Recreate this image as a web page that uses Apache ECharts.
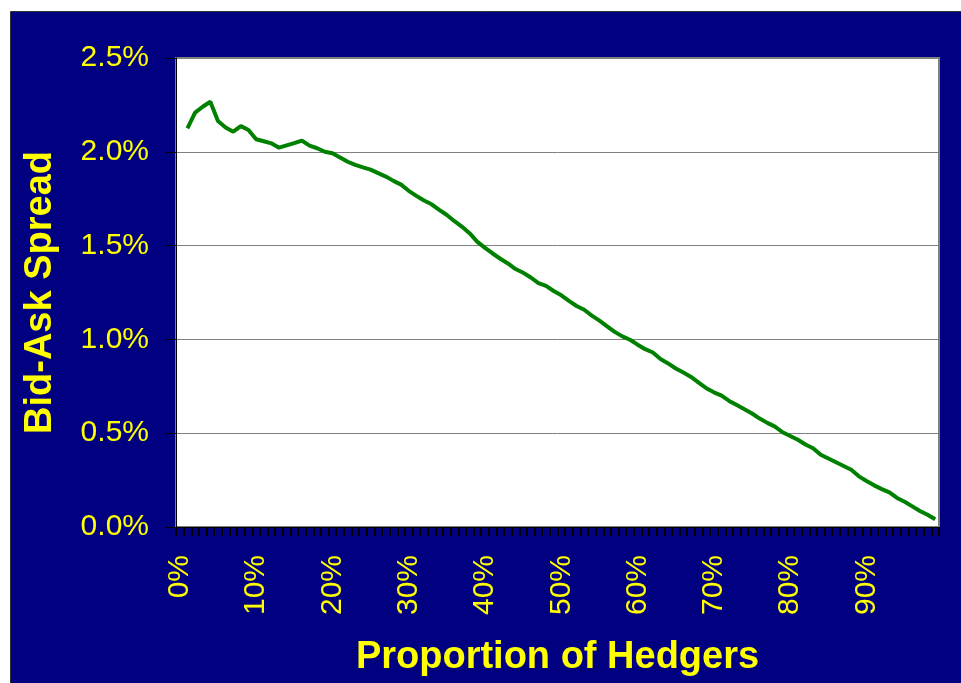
<!DOCTYPE html>
<html>
<head>
<meta charset="utf-8">
<script src="https://cdn.jsdelivr.net/npm/echarts@6/dist/echarts.min.js"></script>
<style>
  html, body { margin: 0; padding: 0; background: #fff; }
  #main { width: 961px; height: 683px; }
</style>
</head>
<body>
<div id="main"></div>
<script>
// proportion of hedgers 0%..99%
var categories = [];
for (var i = 0; i < 100; i++) categories.push(i + '%');

// bid-ask spread (%); no value at 0%
var spread = [
  null, 2.125, 2.209, 2.240, 2.267, 2.164, 2.130, 2.107, 2.137, 2.116,
  2.067, 2.056, 2.045, 2.022, 2.034, 2.046, 2.060, 2.033, 2.019, 2.000,
  1.992, 1.970, 1.947, 1.930, 1.917, 1.905, 1.886, 1.868, 1.845, 1.825,
  1.792, 1.765, 1.740, 1.720, 1.690, 1.663, 1.630, 1.600, 1.565, 1.520,
  1.488, 1.458, 1.430, 1.405, 1.375, 1.355, 1.330, 1.300, 1.285, 1.258,
  1.235, 1.205, 1.178, 1.158, 1.127, 1.100, 1.070, 1.040, 1.016, 0.998,
  0.972, 0.948, 0.930, 0.895, 0.872, 0.845, 0.823, 0.800, 0.770, 0.740,
  0.718, 0.700, 0.672, 0.650, 0.628, 0.605, 0.578, 0.555, 0.535, 0.505,
  0.485, 0.465, 0.440, 0.420, 0.385, 0.365, 0.345, 0.325, 0.305, 0.270,
  0.245, 0.222, 0.202, 0.185, 0.155, 0.135, 0.110, 0.085, 0.065, 0.041
];

var yTicks = [0, 0.5, 1.0, 1.5, 2.0, 2.5];

var chart = echarts.init(document.getElementById('main'));
chart.setOption({
  backgroundColor: '#fff',
  animation: false,
  graphic: [{
    type: 'rect',
    z: -10,
    shape: { x: 10.5, y: 11.5, width: 960, height: 680 },
    style: { fill: '#000080', stroke: '#333', lineWidth: 1 }
  }],
  grid: {
    left: 176,
    top: 58,
    width: 763,
    height: 469,
    show: true,
    backgroundColor: '#fff',
    borderColor: '#808080',
    borderWidth: 2
  },
  xAxis: {
    type: 'category',
    data: categories,
    boundaryGap: true,
    name: 'Proportion of Hedgers',
    nameLocation: 'middle',
    nameGap: 112,
    nameTextStyle: {
      color: '#ffff00',
      fontFamily: 'Liberation Sans, Arial',
      fontWeight: 'bold',
      fontSize: 38
    },
    axisLine: { lineStyle: { color: '#000', width: 1 } },
    axisTick: { show: true, interval: 0, length: 9, lineStyle: { color: '#000', width: 2 } },
    axisLabel: {
      interval: 9,
      rotate: 90,
      margin: 28,
      color: '#ffff00',
      fontFamily: 'Liberation Sans, Arial',
      fontSize: 30
    },
    splitLine: { show: false }
  },
  yAxis: {
    type: 'value',
    min: yTicks[0],
    max: yTicks[yTicks.length - 1],
    interval: 0.5,
    name: 'Bid-Ask Spread',
    nameLocation: 'middle',
    nameGap: 116,
    nameRotate: 90,
    nameTextStyle: {
      color: '#ffff00',
      fontFamily: 'Liberation Sans, Arial',
      fontWeight: 'bold',
      fontSize: 38
    },
    axisLine: { show: true, lineStyle: { color: '#000', width: 1 } },
    axisTick: { show: true, length: 10, lineStyle: { color: '#000', width: 1 } },
    axisLabel: {
      margin: 27,
      color: '#ffff00',
      fontFamily: 'Liberation Sans, Arial',
      fontSize: 30,
      formatter: function (v) { return v.toFixed(1) + '%'; }
    },
    splitLine: { show: true, lineStyle: { color: '#808080', width: 1 } }
  },
  series: [{
    type: 'line',
    data: spread,
    symbol: 'none',
    connectNulls: false,
    lineStyle: { color: '#008000', width: 4 }
  }]
});
</script>
</body>
</html>
